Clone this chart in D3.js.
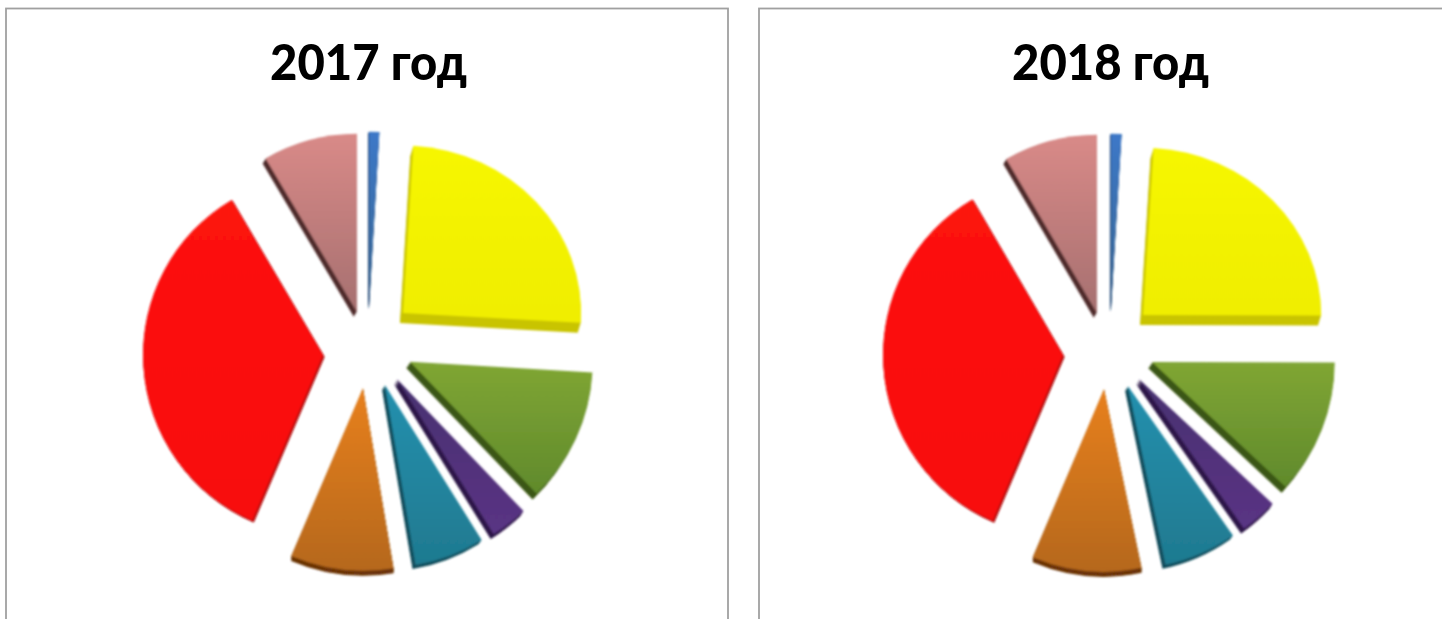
<!DOCTYPE html>
<html lang="ru">
<head>
    <meta charset="UTF-8">
    <title>2017 год / 2018 год</title>
    <style>
        body { margin: 0; background: #fff; overflow: hidden; }
        svg { display: block; }
        .title { font-family: Lato, "Noto Sans", sans-serif; font-weight: 900; font-size: 50px; fill: #000; text-anchor: middle; }
    </style>
</head>
<body>
    <svg id="chart" width="1442" height="619"></svg>
    <script src="https://d3js.org/d3.v7.min.js"></script>
    <script>
        // Slices, clockwise from twelve o'clock
        const categories = ["blue", "yellow", "green", "purple", "teal", "orange", "red", "pink"];
        const values2017 = [0.92, 25.0, 11.9, 3.3, 6.2, 9.1, 35.1, 8.47];
        const values2018 = [0.94, 24.1, 11.9, 3.3, 6.45, 9.67, 35.2, 8.4];
        const titles = ["2017 год", "2018 год"];

        // Slice look
        const topColors = ["#3c78c8", "#f6f600", "#80a634", "#483270", "#2590ae", "#e8801a", "#fd1210", "#d98a88"];
        const bottomColors = ["#3a6690", "#f0ee06", "#608a2c", "#5a3484", "#1f7a90", "#b5681f", "#f8100c", "#a67070"];
        const sideColors = ["#1f3f6e", "#c9c400", "#3a5612", "#2d1948", "#134c5b", "#6b3408", "#b00d0d", "#4f2a2a"];
        const depthX = [-1, -3, -4, -3, -3, 0, 1.5, -3];
        const depthY = [2, 10, 6, 5, 4, 5, 2, 5];
        const scaleX = [1, 0.99, 1.015, 1.015, 1.015, 1.015, 1, 1];
        const scaleY = [0.98, 0.93, 1.015, 1.015, 1.015, 1.015, 1, 0.99];

        // How far each slice is pulled out of the pie, and in which direction (degrees)
        const pull2017 = [39, 49.5, 45.5, 43.9, 42, 41.2, 44.7, 36.4];
        const pullDir2017 = [3, 46.6, 109, 137, 154.7, 185.6, 259.7, 344];
        const pull2018 = [37, 47.4, 46.5, 44.6, 43.8, 42.2, 45.7, 35.7];
        const pullDir2018 = [4.6, 47.6, 108.8, 135.9, 152.9, 185.4, 259.9, 342];

        const radius = 180;
        const svg = d3.select("#chart");
        const defs = svg.append("defs");

        // The source is a soft, upscaled picture
        defs.append("filter").attr("id", "soft")
            .attr("x", "-5%").attr("y", "-5%").attr("width", "110%").attr("height", "110%")
            .append("feGaussianBlur").attr("stdDeviation", 0.9);
        defs.append("filter").attr("id", "softText")
            .attr("x", "-5%").attr("y", "-5%").attr("width", "110%").attr("height", "110%")
            .append("feGaussianBlur").attr("stdDeviation", 0.5);

        categories.forEach((c, i) => {
            const g = defs.append("linearGradient").attr("id", "grad-" + c)
                .attr("x1", 0).attr("y1", 0).attr("x2", 0).attr("y2", 1);
            g.append("stop").attr("offset", "0%").attr("stop-color", topColors[i]);
            g.append("stop").attr("offset", "100%").attr("stop-color", bottomColors[i]);
        });

        // Panel frames run off the bottom of the picture
        const frame = [
            { x: 6, w: 722, cx: 367, cy: 347, titleX: 368.5, values: values2017, pull: pull2017, dir: pullDir2017 },
            { x: 759, w: 700, cx: 1108, cy: 347, titleX: 1110.5, values: values2018, pull: pull2018, dir: pullDir2018 }
        ];

        const pie = d3.pie().sort(null);
        const arc = d3.arc().innerRadius(0).outerRadius(radius);

        frame.forEach((p, n) => {
            svg.append("rect")
                .attr("x", p.x).attr("y", 8.5)
                .attr("width", p.w).attr("height", 700)
                .attr("fill", "none").attr("stroke", "#a0a0a0").attr("stroke-width", 1.8);

            svg.append("text").attr("class", "title")
                .attr("x", p.titleX).attr("y", 80)
                .attr("textLength", 197)
                .attr("lengthAdjust", "spacingAndGlyphs")
                .attr("filter", "url(#softText)")
                .text(titles[n]);

            const pieGroup = svg.append("g").attr("filter", "url(#soft)");
            const slices = pieGroup.selectAll("g")
                .data(pie(p.values))
                .join("g")
                .attr("transform", (d, i) => {
                    const a = p.dir[i] * Math.PI / 180;
                    const x = p.cx + p.pull[i] * Math.sin(a);
                    const y = p.cy - p.pull[i] * Math.cos(a);
                    return `translate(${x},${y})`;
                });

            // Extruded edge first, then the face on top
            slices.each(function(d, i) {
                const s = d3.select(this);
                d3.range(1, 9).reverse().forEach(k => {
                    s.append("path")
                        .attr("d", arc(d))
                        .attr("fill", sideColors[i])
                        .attr("transform", `translate(${depthX[i] * k / 8},${depthY[i] * k / 8}) scale(${scaleX[i]},${scaleY[i]})`);
                });
                s.append("path")
                    .attr("d", arc(d))
                    .attr("fill", `url(#grad-${categories[i]})`)
                    .attr("transform", `scale(${scaleX[i]},${scaleY[i]})`);
            });
        });
    </script>
</body>
</html>
